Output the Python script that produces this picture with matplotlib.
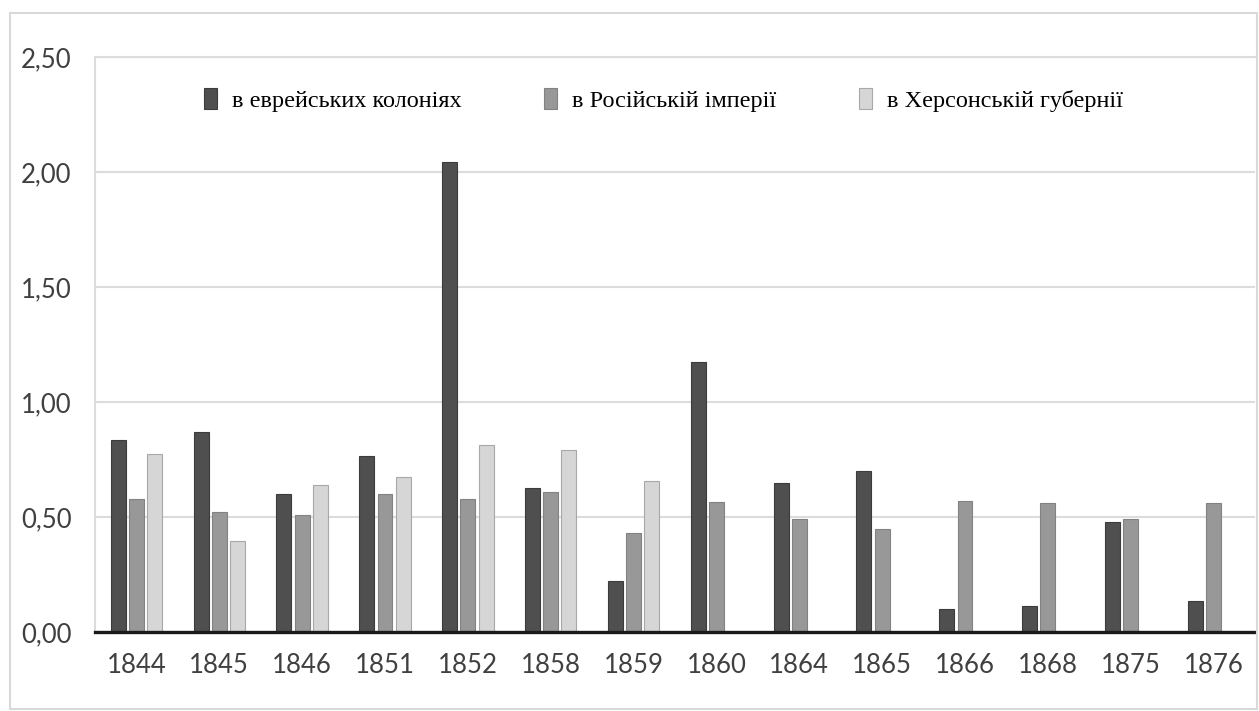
import matplotlib
matplotlib.use("Agg")
import matplotlib.pyplot as plt
import numpy as np
from matplotlib.patches import Rectangle

years = ["1844", "1845", "1846", "1851", "1852", "1858", "1859", "1860",
         "1864", "1865", "1866", "1868", "1875", "1876"]
jewish_colonies = [0.835, 0.87, 0.60, 0.765, 2.045, 0.625, 0.22, 1.175,
                   0.65, 0.70, 0.10, 0.115, 0.48, 0.135]
russian_empire = [0.58, 0.52, 0.51, 0.60, 0.58, 0.61, 0.43, 0.565,
                  0.49, 0.45, 0.568, 0.563, 0.49, 0.563]
kherson_gov = [0.775, 0.395, 0.638, 0.675, 0.812, 0.79, 0.655, 0, 0, 0, 0, 0, 0, 0]
series_names = ["в еврейських колоніях", "в Російській імперії", "в Херсонській губернії"]
y_ticks = [0.0, 0.5, 1.0, 1.5, 2.0, 2.5]
y_tick_labels = ["0,00", "0,50", "1,00", "1,50", "2,00", "2,50"]

W, H = 1259, 711
fig = plt.figure(figsize=(W / 100, H / 100), dpi=100)
fig.patch.set_facecolor("white")

# outer chart border
fig.patches.append(Rectangle((10 / W, 1 - 709 / H), 1247 / W, 696 / H,
                             transform=fig.transFigure, fill=False,
                             edgecolor="#d9d9d9", linewidth=1.5))

ax = fig.add_axes([95 / W, 1 - 632 / H, 1160 / W, 575 / H])
x = np.arange(len(years))
bw = 0.18
step = 0.22
colors = ["#4f4f4f", "#989898", "#d6d6d6"]
edges = ["#3c3c3c", "#828282", "#a8a8a8"]
for i, (vals, c, e, name) in enumerate(zip([jewish_colonies, russian_empire, kherson_gov],
                                           colors, edges, series_names)):
    ax.bar(x + (i - 1) * step, vals, width=bw, color=c, edgecolor=e,
           linewidth=0.8, label=name, zorder=3)

ax.set_xlim(-0.5, len(years) - 0.5)
ax.set_ylim(0, 2.5)
ax.set_yticks(y_ticks)
ax.set_yticklabels(y_tick_labels)
ax.set_xticks(x)
ax.set_xticklabels(years)
ax.tick_params(axis="both", length=0, labelsize=18.5, colors="#404040")
ax.tick_params(axis="y", pad=17)
ax.tick_params(axis="x", pad=15)
for lab in ax.get_xticklabels() + ax.get_yticklabels():
    lab.set_fontfamily("Lato")

ax.yaxis.grid(True, color="#dcdcdc", linewidth=1.5, zorder=0)
ax.set_axisbelow(True)
for s in ["left", "top", "right"]:
    ax.spines[s].set_color("#dcdcdc")
    ax.spines[s].set_linewidth(1.5)
ax.spines["right"].set_visible(False)
ax.spines["bottom"].set_color("#1a1a1a")
ax.spines["bottom"].set_linewidth(2.4)
ax.spines["bottom"].set_zorder(5)

leg = ax.legend(loc="center", bbox_to_anchor=(0.49, 0.925), ncol=3, frameon=False,
                prop={"family": "Liberation Serif", "size": 17.5},
                handlelength=0.55, handleheight=0.9, handletextpad=0.6,
                columnspacing=3.4)

fig.savefig("out.png", dpi=100, facecolor="white")
